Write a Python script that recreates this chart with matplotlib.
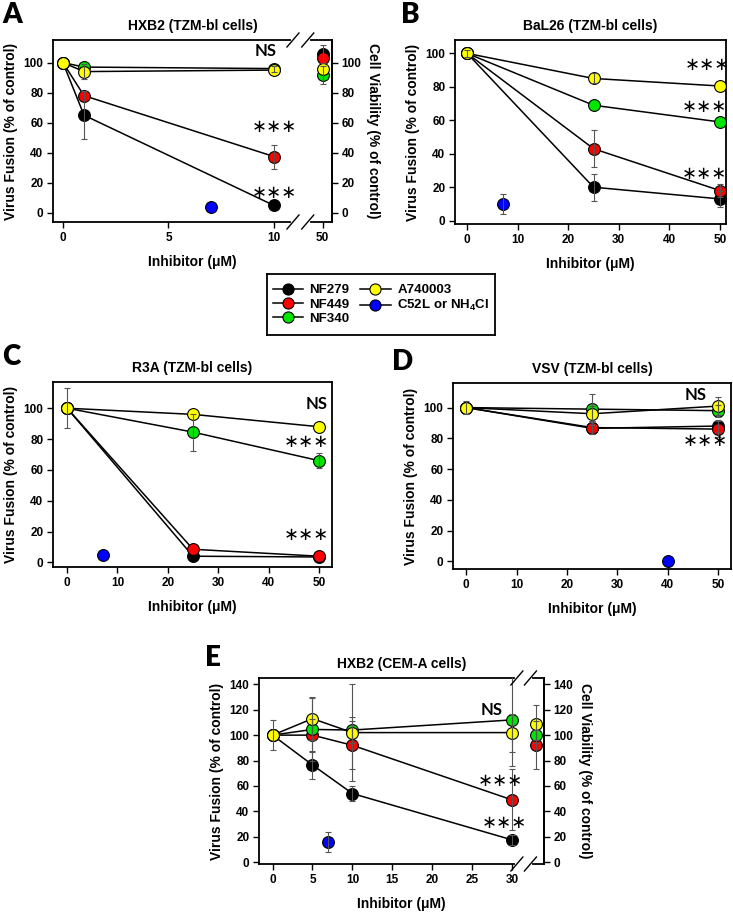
import numpy as np
import matplotlib.pyplot as plt
import matplotlib.transforms as mtransforms
from matplotlib.lines import Line2D

plt.rcParams['font.family'] = ['Liberation Sans', 'DejaVu Sans']
plt.rcParams['font.weight'] = 'bold'
plt.rcParams['mathtext.fontset'] = 'custom'
plt.rcParams['mathtext.rm'] = 'Liberation Sans:bold'
plt.rcParams['mathtext.it'] = 'Liberation Sans:bold'
plt.rcParams['mathtext.bf'] = 'Liberation Sans:bold'

compounds = ["NF279", "NF449", "NF340", "A740003"]
colors = ["#000000", "#ff0000", "#00e600", "#ffff00"]
ctrl_label = "C52L or NH$_4$Cl"
ctrl_color = "#0000ff"

# A - HXB2 (TZM-bl cells), viability measured at 50 uM
a_conc = [0, 1, 10]
a_fusion = [[100, 65, 5], [100, 78, 37.5], [100, 97, 96], [100, 94, 95]]
a_err = [[0, 16, 0], [0, 0, 8], [0, 0, 2], [0, 5, 0]]
a_viab = [106, 103, 92, 96]
a_viab_err = [6, 0, 6, 0]
a_ctrl = [7.0, 4, 0]  # x, y, err

# B - BaL26 (TZM-bl cells)
b_conc = [0, 25, 50]
b_fusion = [[100, 20, 13], [100, 43, 18], [100, 69, 59], [100, 85, 80.5]]
b_err = [[0, 8, 5], [0, 11, 4], [0, 0, 0], [2, 3, 0]]
b_ctrl = [7.1, 10, 6]

# C - R3A (TZM-bl cells)
c_conc = [0, 25, 50]
c_fusion = [[100, 4, 3.5], [100, 8.5, 4], [100, 84.5, 66], [100, 96, 88]]
c_err = [[0, 0, 0], [0, 0, 0], [0, 12, 5], [13, 0, 0]]
c_ctrl = [7.1, 4.5, 0]

# D - VSV (TZM-bl cells)
d_conc = [0, 25, 50]
d_fusion = [[100, 86.5, 88], [100, 87, 86], [100, 99, 98], [100, 96, 101]]
d_err = [[0, 4, 4], [0, 4, 5], [0, 10, 4], [4, 5, 6]]
d_ctrl = [40, 0.5, 0]

# E - HXB2 (CEM-A cells), viability for NF449 / NF340 / A740003 only
e_conc = [0, 5, 10, 30]
e_fusion = [[100, 76.5, 54, 17.5], [100, 100, 92, 49],
            [100, 104.5, 104, 112], [100, 113, 102, 102]]
e_err = [[0, 11, 6, 4], [0, 13, 19, 24], [0, 25, 10, 36], [12, 17, 38, 15]]
e_viab = [np.nan, 92, 100, 109]
e_viab_err = [0, 19, 4, 15]
e_ctrl = [7.0, 16, 8]

W, H = 733, 916
fig = plt.figure(figsize=(W / 100, H / 100), dpi=100)

EB = dict(ecolor='#555555', elinewidth=0.8, capsize=2.5, capthick=0.8)


def box(l, t, r, b):
    return [l / W, 1 - b / H, (r - l) / W, (b - t) / H]


def errs(ax, xs, ys, es):
    keep = [i for i, e in enumerate(es) if e > 0]
    if keep:
        ax.errorbar([xs[i] for i in keep], [ys[i] for i in keep],
                    yerr=[es[i] for i in keep], fmt='none', zorder=4, **EB)


def draw_series(ax, conc, fusion, err, ctrl):
    for vals, e, c in zip(fusion, err, colors):
        ax.plot(conc, vals, '-', color='black', lw=1.1, zorder=2)
        ax.plot(conc, vals, 'o', mfc=c, mec='black', mew=0.8, ms=8.5, zorder=3)
        errs(ax, conc, vals, e)
    ax.plot([ctrl[0]], [ctrl[1]], 'o', mfc=ctrl_color, mec='black', mew=0.8,
            ms=8.5, zorder=3)
    errs(ax, [ctrl[0]], [ctrl[1]], [ctrl[2]])


def draw_viability(ax, xpos, viab, verr):
    for v, e, c in zip(viab, verr, colors):
        if np.isnan(v):
            continue
        ax.plot([xpos], [v], 'o', mfc=c, mec='black', mew=0.8, ms=8.5, zorder=3)
        errs(ax, [xpos], [v], [e])


def style(ax, title):
    for s in ax.spines.values():
        s.set_linewidth(1.3)
    ax.tick_params(direction='out', length=4, width=1, labelsize=8.5, pad=3)
    ax.set_title(title, fontsize=10, fontweight='bold', pad=7)
    ax.set_ylabel("Virus Fusion (% of control)", fontsize=10, fontweight='bold', labelpad=4)
    ax.set_xlabel("Inhibitor (\u03bcM)", fontsize=10, fontweight='bold', labelpad=8)


def stars(ax, x, y):
    ax.text(x, y, "\u2217\u2217\u2217", fontsize=13, fontweight='normal',
            family='DejaVu Sans', ha='center', va='center', zorder=6)


def ns(ax, x, y):
    ax.text(x, y, "NS", fontsize=12, fontweight='bold', family='Lato',
            ha='center', va='center', zorder=6)


def break_axis(ax, x0, x1, wpx, hpx):
    trans = mtransforms.blended_transform_factory(ax.transData, ax.transAxes)
    lo, hi = ax.get_xlim()
    for y in (0, 1):
        ax.plot([x0, x1], [y, y], color='white', lw=3, transform=trans,
                clip_on=False, zorder=5)
        for xb in (x0, x1):
            fx = (xb - lo) / (hi - lo)
            dx, dy = 6 / wpx, 7 / hpx
            ax.plot([fx - dx, fx + dx], [y - dy, y + dy], color='black', lw=1,
                    transform=ax.transAxes, clip_on=False, zorder=6)


def viability_axis(ax, ticks):
    tw = ax.twinx()
    tw.set_ylim(ax.get_ylim())
    tw.set_yticks(ticks)
    for k in ('top', 'bottom', 'left'):
        tw.spines[k].set_visible(False)
    tw.spines['right'].set_linewidth(1.3)
    tw.tick_params(direction='out', length=4, width=1, labelsize=8.5, pad=3)
    tw.set_ylabel("Cell Viability (% of control)", fontsize=10, fontweight='bold',
                  rotation=270, labelpad=13)


# ---- A ----
axA = fig.add_axes(box(53, 40, 332, 222))
draw_series(axA, a_conc, a_fusion, a_err, a_ctrl)
a_viab_x = 12.3
draw_viability(axA, a_viab_x, a_viab, a_viab_err)
axA.set_xlim(-0.47, 12.75)
axA.set_ylim(-6, 115)
axA.set_xticks([0, 5, 10, a_viab_x], ['0', '5', '10', '50'])
axA.set_yticks(range(0, 101, 20))
style(axA, "HXB2 (TZM-bl cells)")
break_axis(axA, 10.9, 11.6, 279, 182)
viability_axis(axA, range(0, 101, 20))
ns(axA, 9.6, 108)
stars(axA, 10, 57)
stars(axA, 10, 13)

# ---- B ----
axB = fig.add_axes(box(455, 40, 726, 224))
draw_series(axB, b_conc, b_fusion, b_err, b_ctrl)
axB.set_xlim(-2.4, 51.2)
axB.set_ylim(-2, 108)
axB.set_xticks(range(0, 51, 10))
axB.set_yticks(range(0, 101, 20))
style(axB, "BaL26 (TZM-bl cells)")
stars(axB, 47.6, 93)
stars(axB, 47.0, 68)
stars(axB, 47.0, 28)

# ---- C ----
axC = fig.add_axes(box(53, 382, 332, 567))
draw_series(axC, c_conc, c_fusion, c_err, c_ctrl)
axC.set_xlim(-2.8, 52.6)
axC.set_ylim(-3, 117)
axC.set_xticks(range(0, 51, 10))
axC.set_yticks(range(0, 101, 20))
style(axC, "R3A (TZM-bl cells)")
ns(axC, 49.5, 103)
stars(axC, 47.5, 78)
stars(axC, 47.5, 18)

# ---- D ----
axD = fig.add_axes(box(453, 383, 731, 569))
draw_series(axD, d_conc, d_fusion, d_err, d_ctrl)
axD.set_xlim(-2.6, 52.5)
axD.set_ylim(-5, 116)
axD.set_xticks(range(0, 51, 10))
axD.set_yticks(range(0, 101, 20))
style(axD, "VSV (TZM-bl cells)")
ns(axD, 45.5, 108)
stars(axD, 47.5, 78)

# ---- E ----
axE = fig.add_axes(box(259, 678, 544, 864))
draw_series(axE, e_conc, e_fusion, e_err, e_ctrl)
e_viab_x = 33.0
draw_viability(axE, e_viab_x, e_viab, e_viab_err)
axE.set_xlim(-1.7, 34.0)
axE.set_ylim(-1.5, 145)
axE.set_xticks(range(0, 31, 5))
axE.set_yticks(range(0, 141, 20))
style(axE, "HXB2 (CEM-A cells)")
break_axis(axE, 30.6, 32.3, 285, 186)
viability_axis(axE, range(0, 141, 20))
ns(axE, 27.5, 120)
stars(axE, 28.5, 64)
stars(axE, 29, 31)

# ---- panel letters ----
for letter, x, y in [('A', 2, 15), ('B', 401, 15), ('C', 2, 357), ('D', 392, 362), ('E', 205, 658)]:
    fig.text(x / W, 1 - y / H, letter, fontsize=20, fontweight='heavy', family='Lato',
             ha='left', va='center')

# ---- legend ----
axL = fig.add_axes(box(267, 274, 495, 335))
axL.set_xticks([])
axL.set_yticks([])
for s in axL.spines.values():
    s.set_linewidth(1.3)
handles = [Line2D([], [], color='black', lw=1.1, marker='o', mfc=c, mec='black',
                  mew=0.8, ms=8) for c in colors]
handles.append(Line2D([], [], color='black', lw=1.1, marker='o', mfc=ctrl_color,
                      mec='black', mew=0.8, ms=8))
labels = compounds + [ctrl_label]
axL.legend(handles, labels, ncol=2, loc='center', frameon=False, fontsize=9.5,
           handlelength=2.3, handletextpad=0.5, columnspacing=0.8,
           labelspacing=0.15, borderaxespad=0)

fig.savefig("out.png", dpi=100)
